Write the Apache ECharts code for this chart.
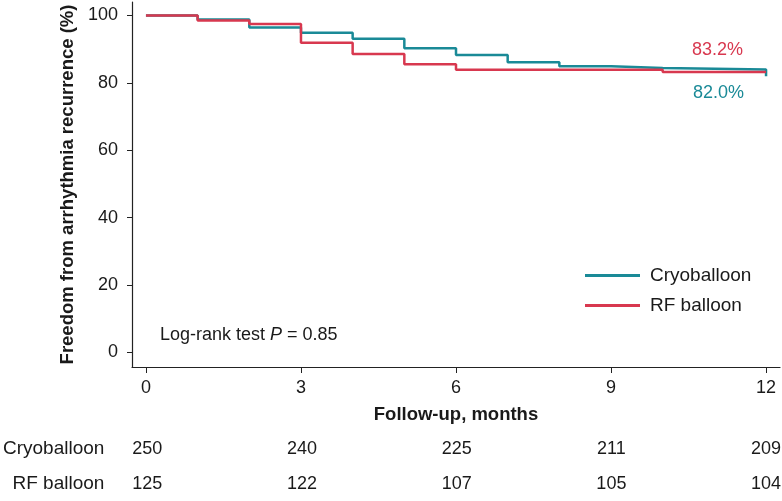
<!DOCTYPE html>
<html lang="en">
<head>
    <meta charset="UTF-8">
    <title>Freedom from arrhythmia recurrence</title>
    <script src="https://cdn.jsdelivr.net/npm/echarts@6/dist/echarts.min.js"></script>
    <style>
        body {
            margin: 0;
            padding: 0;
            background: #fff;
        }
        #box {
            width: 782px;
            height: 501px;
        }
    </style>
</head>
<body>
<div id="box"></div>
<script>
    // Kaplan-Meier steps (months, % free from recurrence)
    var cryoTimes = [0, 1, 2, 3, 4, 5, 6, 7, 8, 9, 10, 12, 12];
    var cryoSurv = [100, 98.8, 96.4, 94.9, 93.1, 90.3, 88.3, 86.1, 84.9, 84.4, 84.0, 84.0, 82.0];
    var rfTimes = [0, 1, 2, 3, 4, 5, 6, 10, 12];
    var rfSurv = [100, 98.5, 97.5, 91.9, 88.6, 85.5, 83.9, 83.2, 83.2];

    // numbers at risk
    var riskMonths = [0, 3, 6, 9, 12];
    var groups = ['Cryoballoon', 'RF balloon'];
    var cryoAtRisk = [250, 240, 225, 211, 209];
    var rfAtRisk = [125, 122, 107, 105, 104];

    var xTicks = [0, 3, 6, 9, 12];
    var yTicks = [0, 20, 40, 60, 80, 100];

    var teal = '#1a8a97';
    var red = '#d8384f';
    var ink = '#1a1a1a';
    var font = 'Liberation Sans, Arial, sans-serif';

    function pairs(xs, ys) {
        var out = [];
        for (var i = 0; i < xs.length; i++) out.push([xs[i], ys[i]]);
        return out;
    }

    function riskRow(counts, row) {
        var out = [];
        for (var i = 0; i < riskMonths.length; i++) out.push([riskMonths[i], row, counts[i]]);
        return out;
    }

    var myChart = echarts.init(document.getElementById('box'), null, {renderer: 'canvas'});

    var riskLabel = {
        show: true, position: 'inside', fontSize: 18, color: ink, opacity: 1, fontFamily: font,
        formatter: function (p) { return p.value[2]; }
    };

    var option = {
        animation: false,
        backgroundColor: '#fff',
        textStyle: {fontFamily: font, color: ink},
        grid: [
            {left: 132, right: 2, top: 2, bottom: 134},
            {left: 132, right: 2, top: 432, height: 74}
        ],
        legend: {
            orient: 'vertical',
            left: 585,
            top: 266,
            padding: 0,
            itemGap: 11,
            itemWidth: 55,
            itemHeight: 3,
            icon: 'rect',
            data: ['Cryoballoon', 'RF balloon'],
            textStyle: {fontSize: 19, color: ink, fontFamily: font, padding: [0, 0, 0, 5], lineHeight: 19}
        },
        xAxis: [
            {
                type: 'value',
                gridIndex: 0,
                min: -0.27,
                max: 12.27,
                name: 'Follow-up, months',
                nameLocation: 'middle',
                nameGap: 38,
                nameTextStyle: {fontSize: 18.5, fontWeight: 'bold', color: ink, fontFamily: font},
                splitLine: {show: false},
                axisLine: {show: true, onZero: false, lineStyle: {color: '#222', width: 1.2}},
                axisTick: {show: true, length: 6, lineStyle: {color: '#222'}, customValues: xTicks},
                axisLabel: {fontSize: 18, color: ink, margin: 12, customValues: xTicks}
            },
            {
                type: 'value',
                gridIndex: 1,
                min: -0.27,
                max: 12.27,
                show: false
            }
        ],
        yAxis: [
            {
                type: 'value',
                gridIndex: 0,
                min: -4.3,
                max: 104,
                name: 'Freedom from arrhythmia recurrence (%)',
                nameLocation: 'middle',
                nameGap: 52,
                nameTextStyle: {fontSize: 18.5, fontWeight: 'bold', color: ink, fontFamily: font},
                splitLine: {show: false},
                axisLine: {show: true, onZero: false, lineStyle: {color: '#222', width: 1.2}},
                axisTick: {show: true, length: 5, lineStyle: {color: '#222'}, customValues: yTicks},
                axisLabel: {fontSize: 18, color: ink, margin: 14, customValues: yTicks}
            },
            {
                type: 'category',
                gridIndex: 1,
                inverse: true,
                data: groups,
                axisLine: {show: false},
                axisTick: {show: false},
                splitLine: {show: false},
                axisLabel: {fontSize: 19, color: ink, margin: 29}
            }
        ],
        series: [
            {
                name: 'Cryoballoon',
                type: 'line',
                step: 'end',
                xAxisIndex: 0,
                yAxisIndex: 0,
                symbol: 'none',
                color: teal,
                lineStyle: {color: teal, width: 2.5},
                data: pairs(cryoTimes, cryoSurv)
            },
            {
                name: 'RF balloon',
                type: 'line',
                step: 'end',
                xAxisIndex: 0,
                yAxisIndex: 0,
                symbol: 'none',
                color: red,
                lineStyle: {color: red, width: 2.5},
                data: pairs(rfTimes, rfSurv)
            },
            {
                name: 'risk-cryo',
                type: 'scatter',
                xAxisIndex: 1,
                yAxisIndex: 1,
                symbolSize: 0,
                silent: true,
                itemStyle: {opacity: 1},
                label: riskLabel,
                data: riskRow(cryoAtRisk, 0)
            },
            {
                name: 'risk-rf',
                type: 'scatter',
                xAxisIndex: 1,
                yAxisIndex: 1,
                symbolSize: 0,
                silent: true,
                itemStyle: {opacity: 1},
                label: riskLabel,
                data: riskRow(rfAtRisk, 1)
            }
        ],
        graphic: [
            {
                type: 'text', left: 160, top: 326,
                style: {
                    text: '{a|Log-rank test }{i|P}{a| = 0.85}',
                    rich: {
                        a: {fontSize: 18, fill: ink, fontFamily: font},
                        i: {fontSize: 18, fill: ink, fontFamily: font, fontStyle: 'italic'}
                    }
                }
            },
            {
                type: 'text', left: 692, top: 41,
                style: {text: rfSurv[rfSurv.length - 1].toFixed(1) + '%', fontSize: 18, fill: red, fontFamily: font}
            },
            {
                type: 'text', left: 693, top: 84,
                style: {text: cryoSurv[cryoSurv.length - 1].toFixed(1) + '%', fontSize: 18, fill: teal, fontFamily: font}
            }
        ]
    };

    myChart.setOption(option);
</script>
</body>
</html>
